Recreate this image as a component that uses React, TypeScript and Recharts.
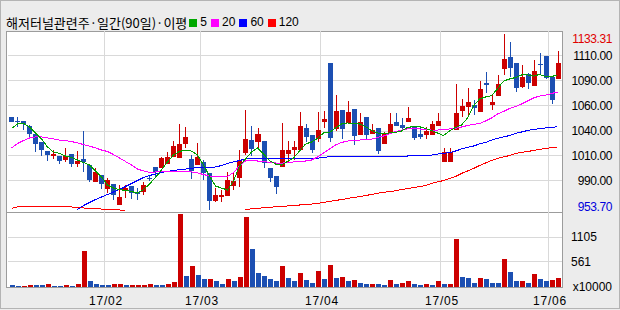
import React from "react";
import { ComposedChart, Bar, Line, XAxis, YAxis, CartesianGrid, Cell } from "recharts";

// 해저터널관련주 daily candles, 92 sessions
const opens = [
  1048.9, 1044.2, 1044.8, 1039.4, 1031.0, 1023.4, 1013.9, 1008.8, 1009.1, 1004.7,
  1010.9, 1001.0, 1005.4, 999.6, 982.6, 989.4, 975.1, 979.9, 958.8, 973.1,
  978.2, 972.4, 972.4, 986.5, 997.9, 996.3, 1000.3, 1008.1, 1007.1, 1021.1,
  1005.4, 999.6, 1003.0, 991.1, 962.9, 967.3, 968.3, 978.5, 986.7, 1011.6,
  1025.1, 1023.4, 1024.1, 996.3, 988.7, 997.9, 1010.9, 1014.9, 1014.9, 1037.1,
  1030.2, 1026.2, 1043.8, 1103.7, 1036.4, 1055.8, 1042.5, 1056.8, 1030.7, 1048.6,
  1031.3, 1037.4, 1021.1, 1032.0, 1043.5, 1040.5, 1043.5, 1038.7, 1031.0, 1030.2,
  1030.2, 1039.7, 1002.4, 1002.4, 1035.3, 1055.2, 1059.1, 1060.9, 1053.2, 1082.8,
  1060.9, 1070.0, 1098.1, 1109.8, 1103.4, 1078.9, 1092.8, 1080.5, 1102.7, 1110.9,
  1089.7, 1087.2,
];
const highs = [
  1048.9, 1048.9, 1044.8, 1040.5, 1031.0, 1023.4, 1013.9, 1014.9, 1009.1, 1017.3,
  1010.9, 1013.9, 1034.3, 999.6, 996.6, 989.4, 986.4, 979.9, 979.2, 979.2,
  978.2, 975.9, 982.6, 988.4, 997.9, 1008.1, 1013.2, 1024.1, 1041.5, 1038.7,
  1009.8, 1021.8, 1004.7, 991.1, 975.9, 974.1, 992.8, 992.8, 1014.9, 1055.8,
  1039.7, 1037.1, 1024.1, 996.3, 988.7, 1042.2, 1024.4, 1024.1, 1053.7, 1041.5,
  1030.2, 1053.7, 1054.7, 1103.7, 1071.1, 1055.8, 1064.9, 1056.8, 1052.7, 1048.6,
  1041.5, 1037.4, 1033.6, 1052.4, 1052.4, 1047.6, 1058.8, 1038.7, 1037.1, 1038.7,
  1044.5, 1052.4, 1017.3, 1017.3, 1082.0, 1067.0, 1077.7, 1066.0, 1085.4, 1094.2,
  1071.1, 1091.5, 1133.31, 1125.4, 1103.4, 1101.7, 1093.2, 1106.8, 1113.6, 1110.9,
  1089.7, 1116.3,
];
const lows = [
  1043.5, 1038.7, 1035.3, 1026.9, 1013.2, 1009.1, 1003.7, 1005.8, 1000.3, 1003.0,
  997.9, 997.9, 992.8, 982.6, 982.6, 974.8, 970.8, 963.9, 958.8, 966.3,
  964.9, 963.9, 969.0, 983.3, 987.7, 996.3, 1000.3, 1008.1, 1007.1, 1016.7,
  985.3, 999.6, 984.3, 953.7, 962.2, 962.2, 968.3, 974.1, 977.5, 1009.8,
  1009.1, 1017.3, 996.9, 982.6, 970.0, 997.9, 1002.0, 1004.7, 1014.9, 1023.4,
  1011.9, 1023.4, 1037.7, 1023.4, 1034.3, 1026.2, 1042.5, 1020.5, 1030.7, 1025.8,
  1031.3, 1010.9, 1021.1, 1032.0, 1039.4, 1034.3, 1043.5, 1025.1, 1026.2, 1026.2,
  1030.2, 1039.7, 1002.4, 1002.4, 1035.3, 1048.6, 1050.6, 1050.6, 1053.2, 1072.6,
  1055.8, 1070.0, 1091.5, 1089.7, 1074.4, 1077.9, 1076.9, 1080.5, 1091.5, 1087.4,
  1061.9, 1087.2,
];
const closes = [
  1043.5, 1043.6, 1041.5, 1031.0, 1020.8, 1014.9, 1009.8, 1010.9, 1003.7, 1008.8,
  1001.0, 1004.0, 1003.0, 984.3, 992.8, 979.9, 984.3, 969.0, 967.3, 975.9,
  970.8, 969.7, 979.2, 985.8, 992.8, 1006.5, 1007.5, 1019.0, 1021.1, 1027.9,
  993.8, 1007.5, 991.1, 962.9, 969.0, 969.0, 984.3, 983.6, 1003.7, 1026.2,
  1015.9, 1031.3, 1001.4, 986.7, 977.5, 1014.9, 1014.9, 1018.3, 1039.4, 1027.9,
  1014.9, 1035.3, 1046.6, 1026.7, 1054.7, 1036.4, 1053.7, 1029.7, 1043.5, 1030.7,
  1035.3, 1014.4, 1031.0, 1041.5, 1039.4, 1037.7, 1047.3, 1027.5, 1028.5, 1034.6,
  1041.1, 1044.5, 1013.2, 1013.2, 1052.4, 1060.1, 1063.6, 1057.5, 1076.9, 1080.8,
  1063.9, 1082.0, 1108.3, 1098.9, 1078.5, 1089.7, 1083.8, 1095.5, 1101.7, 1088.4,
  1066.0, 1104.0,
];
// volume in units of 10000 shares
const volumes = [
  55, 33, 33, 55, 55, 55, 77, 33, 33, 55,
  33, 77, 791, 128, 77, 55, 55, 77, 77, 55,
  55, 55, 55, 77, 55, 55, 77, 106, 1624, 254,
  475, 276, 166, 166, 122, 77, 166, 122, 232, 1558,
  829, 320, 254, 166, 122, 475, 188, 122, 320, 144,
  99, 350, 166, 497, 188, 210, 122, 144, 99, 77,
  77, 77, 55, 144, 77, 99, 122, 77, 55, 77,
  55, 122, 77, 77, 1050, 210, 188, 99, 188, 166,
  99, 99, 608, 327, 122, 122, 99, 298, 166, 122,
  144, 188,
];
// 1 = volume up on the day before
const volumeRising = [
  0, 0, 1, 1, 0, 0, 1, 0, 0, 1,
  0, 1, 1, 0, 0, 0, 0, 1, 1, 0,
  1, 1, 1, 1, 0, 0, 1, 1, 1, 0,
  1, 0, 0, 1, 0, 0, 1, 0, 1, 1,
  0, 0, 0, 0, 0, 1, 0, 0, 1, 0,
  0, 1, 0, 1, 0, 1, 0, 1, 0, 0,
  1, 0, 0, 1, 0, 1, 1, 0, 0, 1,
  0, 1, 0, 1, 1, 0, 0, 0, 1, 0,
  0, 0, 1, 0, 0, 1, 0, 1, 0, 0,
  1, 1,
];
const ma5 = [
  1036.9, 1041.5, 1042.0, 1038.4, 1032.3, 1026.2, 1018.0, 1012.9, 1011.4, 1008.8,
  1007.3, 1004.7, 1002.2, 999.6, 993.5, 987.4, 979.2, 976.1, 974.6, 973.6,
  972.6, 971.0, 974.6, 980.2, 986.9, 994.5, 1002.7, 1009.8, 1013.4, 1014.9,
  1013.9, 1009.8, 999.6, 988.4, 978.2, 976.1, 974.1, 983.3, 998.6, 1005.8,
  1012.9, 1017.0, 1010.8, 1004.2, 1000.6, 999.6, 1003.2, 1006.8, 1013.9, 1021.0,
  1023.1, 1026.7, 1032.3, 1032.8, 1037.4, 1041.5, 1042.5, 1042.2, 1041.5, 1038.9,
  1034.8, 1032.3, 1032.0, 1032.3, 1033.0, 1034.3, 1037.9, 1038.9, 1038.7, 1036.9,
  1034.8, 1032.3, 1029.7, 1034.3, 1037.9, 1040.4, 1047.6, 1059.8, 1067.0, 1069.0,
  1070.5, 1077.2, 1085.3, 1087.4, 1088.9, 1091.5, 1091.5, 1090.4, 1092.0, 1089.9,
  1089.9, 1091.5,
];
const ma20 = [
  1017.0, 1021.6, 1024.6, 1027.2, 1028.2, 1028.2, 1027.2, 1026.2, 1025.1, 1024.4,
  1023.6, 1022.1, 1020.5, 1019.0, 1017.0, 1014.9, 1013.4, 1010.3, 1006.8, 1003.2,
  999.6, 995.5, 993.5, 992.2, 992.5, 992.5, 992.8, 992.8, 992.8, 992.8,
  992.5, 991.5, 989.9, 988.4, 987.7, 987.7, 987.9, 992.0, 998.6, 1003.7,
  1004.7, 1003.7, 1003.0, 1002.4, 1001.7, 1001.4, 1002.2, 1002.7, 1003.0, 1003.7,
  1004.7, 1007.8, 1011.9, 1016.0, 1020.0, 1022.6, 1024.1, 1024.6, 1025.1, 1025.4,
  1025.9, 1027.7, 1029.2, 1031.3, 1033.8, 1035.3, 1036.4, 1036.4, 1036.4, 1035.9,
  1035.3, 1035.3, 1035.9, 1036.4, 1037.1, 1038.4, 1039.9, 1041.0, 1042.0, 1044.5,
  1047.6, 1051.7, 1054.2, 1057.3, 1059.3, 1061.9, 1064.9, 1068.0, 1070.0, 1070.8,
  1072.6, 1074.1,
];
// null where the average sits below the visible price range
const ma60 = [
  null, null, null, null, null, null, null, null, null, null,
  null, 954.2, 958.3, 961.4, 964.4, 967.0, 969.5, 972.1, 974.6, 977.7,
  980.8, 983.8, 986.9, 988.9, 990.4, 992.0, 993.0, 994.0, 995.0, 995.5,
  996.3, 996.9, 997.1, 997.4, 997.6, 999.1, 1001.2, 1002.7, 1004.2, 1005.8,
  1006.5, 1006.5, 1006.5, 1006.5, 1006.5, 1006.5, 1006.5, 1006.5, 1006.5, 1006.5,
  1006.5, 1006.5, 1007.3, 1008.1, 1008.3, 1008.6, 1008.8, 1008.5, 1008.2, 1008.1,
  1008.1, 1008.1, 1008.1, 1008.3, 1008.5, 1008.6, 1008.8, 1009.1, 1009.3, 1009.6,
  1009.8, 1010.8, 1011.6, 1012.2, 1013.9, 1016.0, 1017.5, 1019.0, 1021.1, 1022.6,
  1025.1, 1026.7, 1028.2, 1029.7, 1031.8, 1033.3, 1034.8, 1035.9, 1036.6, 1037.4,
  1038.1, 1038.6,
];
const ma120 = [
  955.4, 956.8, 956.8, 956.8, 956.8, 956.8, 956.8, 956.8, 956.8, 956.8,
  956.8, 956.3, 955.8, 955.4, 955.2, 954.7, 954.4, 954.0, 953.7, 953.2,
  null, null, null, null, null, null, null, null, null, null,
  null, null, null, null, null, null, null, null, null, 954.2,
  954.9, 955.4, 956.0, 956.5, 957.0, 957.3, 957.8, 958.3, 958.8, 959.3,
  959.8, 960.5, 961.4, 962.4, 963.4, 964.4, 965.4, 966.5, 967.3, 968.5,
  969.5, 970.8, 971.6, 972.6, 973.3, 974.6, 975.6, 976.5, 977.5, 978.7,
  980.8, 982.3, 983.8, 985.9, 987.9, 991.0, 993.5, 996.1, 999.1, 1001.7,
  1004.2, 1006.3, 1007.8, 1009.3, 1011.4, 1012.4, 1013.4, 1014.4, 1015.5, 1016.5,
  1017.3, 1018.0,
];

const monthTicks = [15.5, 31.5, 51.5, 71.5, 89.5];
const monthLabels = ["17/02", "17/03", "17/04", "17/05", "17/06"];
const priceGrid = [1110.86, 1085.35, 1059.84, 1034.32, 1008.81, 983.3];
const priceGridLabels = ["1110.00", "1090.00", "1060.00", "1040.00", "1010.00", "990.00"];
const priceMax = 1133.31;
const priceMin = 953.7;
const volumeTicks = [0, 561, 1105];
const volumeUnit = "x10000";

const TITLE = "해저터널관련주·일간(90일)·이평";
const legendItems = [
  { label: "5", color: "#00a800" },
  { label: "20", color: "#ff00ff" },
  { label: "60", color: "#0000ff" },
  { label: "120", color: "#ff0000" },
];

const UP = "#cc0000";
const DOWN = "#1c4fb2";
const GRID = "#d9d9d9";
const FRAME = "#9c9c9c";
const NUM_FONT = "'Liberation Sans', Arial, sans-serif";

const rows = opens.map((o, i) => ({
  i,
  open: o,
  high: highs[i],
  low: lows[i],
  close: closes[i],
  range: [lows[i], highs[i]],
  vol: volumes[i],
  volUp: volumeRising[i] === 1,
  ma5: ma5[i],
  ma20: ma20[i],
  ma60: ma60[i],
  ma120: ma120[i],
}));

const X_DOMAIN: [number, number] = [-0.58333, 91.75];

function Candle(props: any) {
  const { x, y, width, height, payload } = props;
  if (!payload || width == null) return null;
  const { open, high, low, close } = payload;
  const top = Math.min(y, y + height);
  const h = Math.abs(height);
  const perUnit = h / (high - low || 1);
  const bodyTop = top + (high - Math.max(open, close)) * perUnit;
  const bodyBot = top + (high - Math.min(open, close)) * perUnit;
  const color = close >= open ? UP : DOWN;
  const cx = x + width / 2;
  return (
    <g shapeRendering="crispEdges">
      <line x1={cx} x2={cx} y1={top} y2={top + h} stroke={color} strokeWidth={1} />
      <rect x={x} y={bodyTop} width={width} height={Math.max(1, bodyBot - bodyTop)} fill={color} />
    </g>
  );
}

function PriceTick(props: any) {
  const { y, payload } = props;
  const v = payload.value;
  let text = priceGridLabels[priceGrid.indexOf(v)];
  let fill = "#000";
  let dy = 0;
  if (v === priceMax) {
    text = priceMax.toFixed(2);
    fill = "#e00000";
    dy = 5;
  } else if (v === priceMin) {
    text = priceMin.toFixed(2);
    fill = "#0000dd";
    dy = -3;
  }
  return (
    <text x={612} y={y + dy + 4.3} textAnchor="end" fill={fill} fontSize={12} fontFamily={NUM_FONT} letterSpacing={-0.4}>
      {text}
    </text>
  );
}

function VolumeTick(props: any) {
  const { y, payload } = props;
  if (payload.value === 0) {
    return (
      <text x={612} y={y + 4.3} textAnchor="end" fill="#000" fontSize={12} fontFamily={NUM_FONT}>
        {volumeUnit}
      </text>
    );
  }
  return (
    <text x={571} y={y + 4.3} textAnchor="start" fill="#000" fontSize={12} fontFamily={NUM_FONT}>
      {payload.value}
    </text>
  );
}

function MonthTick(props: any) {
  const { x, payload } = props;
  const label = monthLabels[monthTicks.indexOf(payload.value)];
  return (
    <text x={x + 1.5} y={305} textAnchor="middle" fill="#000" fontSize={12} fontFamily={NUM_FONT} letterSpacing={0.8}>
      {label}
    </text>
  );
}

export default function App() {
  return (
    <div
      style={{
        position: "absolute",
        left: 0,
        top: 0,
        width: 620,
        height: 310,
        background: "#ececec",
        overflow: "hidden",
      }}
    >
      {/* outer frame */}
      <div style={{ position: "absolute", left: 0, top: 0, width: 620, height: 309, border: "1px solid #b4b4b4", boxSizing: "border-box" }} />

      {/* title + MA legend */}
      <div
        style={{
          position: "absolute",
          left: 6,
          top: 15,
          height: 15,
          display: "flex",
          alignItems: "center",
          fontFamily: "'Noto Sans CJK KR', sans-serif",
          fontSize: 13,
          lineHeight: "15px",
          color: "#000",
          whiteSpace: "nowrap",
        }}
      >
        <span>{TITLE}</span>
        {legendItems.map((it, k) => (
          <span key={it.label} style={{ display: "flex", alignItems: "center", marginLeft: k === 0 ? 2 : 4 }}>
            <span style={{ display: "inline-block", width: 8, height: 8, background: it.color }} />
            <span style={{ marginLeft: 3, fontFamily: NUM_FONT, fontSize: 12 }}>{it.label}</span>
          </span>
        ))}
      </div>

      {/* panel frame */}
      <div
        style={{
          position: "absolute",
          left: 6,
          top: 31,
          width: 557,
          height: 257,
          background: "#fff",
          border: `1px solid ${FRAME}`,
          boxSizing: "border-box",
        }}
      />
      <div style={{ position: "absolute", left: 6, top: 212, width: 557, height: 1, background: FRAME }} />

      {/* price panel */}
      <div style={{ position: "absolute", left: 0, top: 0 }}>
        <ComposedChart width={620} height={310} data={rows} margin={{ top: 31, right: 0, bottom: 98, left: 8 }}>
          <CartesianGrid stroke={GRID} horizontalValues={priceGrid} verticalValues={monthTicks} shapeRendering="crispEdges" />
          <XAxis dataKey="i" type="number" domain={X_DOMAIN} ticks={monthTicks} allowDataOverflow hide />
          <YAxis
            orientation="right"
            width={58}
            type="number"
            domain={[951.66, 1136.37]}
            allowDataOverflow
            ticks={[priceMax, ...priceGrid, priceMin]}
            interval={0}
            axisLine={false}
            tickLine={false}
            tick={<PriceTick />}
          />
          <Line dataKey="ma120" stroke="#ff0000" strokeWidth={1} dot={false} isAnimationActive={false} shapeRendering="crispEdges" />
          <Line dataKey="ma60" stroke="#0000ff" strokeWidth={1} dot={false} isAnimationActive={false} shapeRendering="crispEdges" />
          <Line dataKey="ma20" stroke="#ff00ff" strokeWidth={1} dot={false} isAnimationActive={false} shapeRendering="crispEdges" />
          <Bar dataKey="range" barSize={5} shape={<Candle />} isAnimationActive={false} />
          <Line dataKey="ma5" stroke="#00a000" strokeWidth={1} dot={false} isAnimationActive={false} shapeRendering="crispEdges" />
        </ComposedChart>
      </div>

      {/* volume panel */}
      <div style={{ position: "absolute", left: 0, top: 0 }}>
        <ComposedChart width={620} height={310} data={rows} margin={{ top: 212, right: 0, bottom: 0, left: 8 }}>
          <CartesianGrid stroke={GRID} horizontalValues={[561, 1105]} verticalValues={monthTicks} shapeRendering="crispEdges" />
          <XAxis
            dataKey="i"
            type="number"
            domain={X_DOMAIN}
            ticks={monthTicks}
            allowDataOverflow
            interval={0}
            height={23}
            axisLine={false}
            tickLine={false}
            tick={<MonthTick />}
          />
          <YAxis
            orientation="right"
            width={58}
            type="number"
            domain={[0, 1657.5]}
            allowDataOverflow
            ticks={volumeTicks}
            interval={0}
            axisLine={false}
            tickLine={false}
            tick={<VolumeTick />}
          />
          <Bar dataKey="vol" barSize={5} isAnimationActive={false} shapeRendering="crispEdges">
            {rows.map((r) => (
              <Cell key={r.i} fill={r.volUp ? UP : DOWN} />
            ))}
          </Bar>
        </ComposedChart>
      </div>
    </div>
  );
}
